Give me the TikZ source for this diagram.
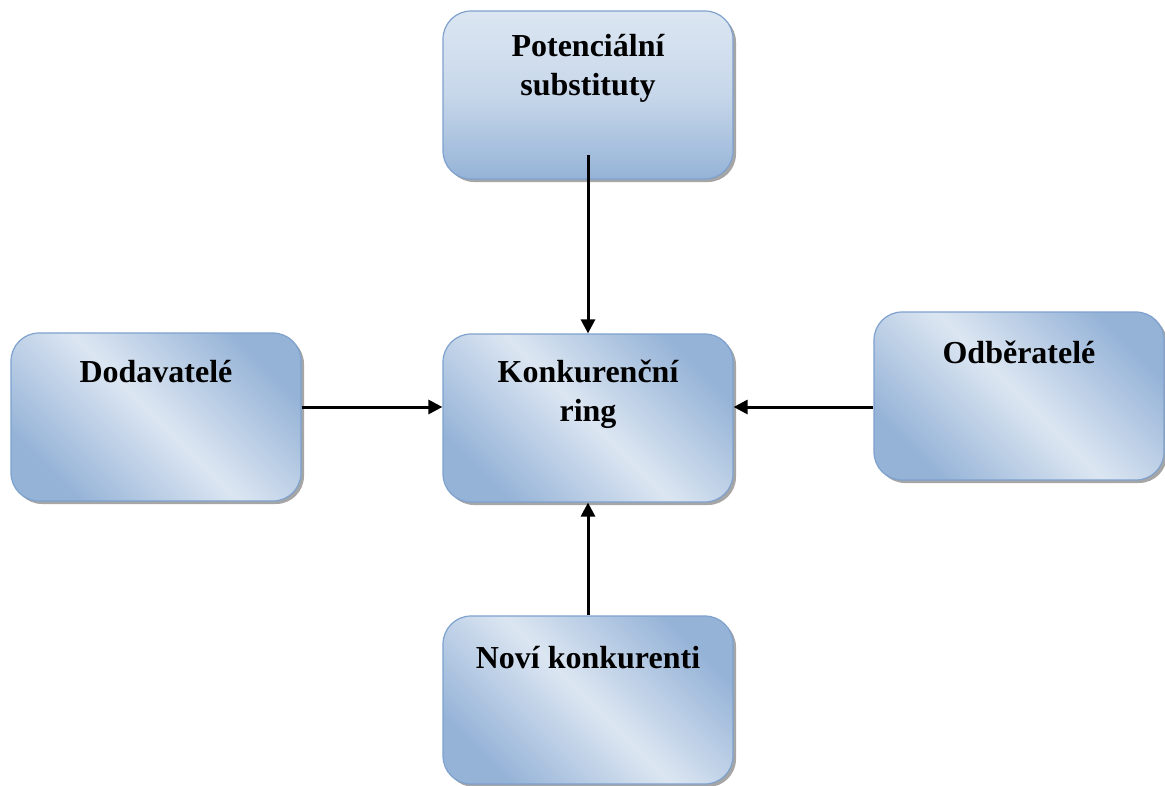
\documentclass[tikz,border=0pt]{standalone}
\usepackage{fontspec}
\setmainfont{Liberation Serif}
\usetikzlibrary{arrows.meta,shadows}
\definecolor{boxdark}{HTML}{95B3D7}
\definecolor{boxlight}{HTML}{DCE6F2}
\definecolor{boxline}{HTML}{7EA1CE}
\tikzset{
  box/.style={draw=boxline, line width=1.2pt, rounded corners=28pt,
    minimum width=290pt, minimum height=168pt, inner sep=0pt,
    drop shadow={shadow xshift=3pt, shadow yshift=-3pt, fill=gray!70, opacity=1},
    shading=axis, left color=boxdark, right color=boxdark, middle color=boxlight, shading angle=135},
  vbox/.style={box, top color=boxlight, bottom color=boxdark, middle color=boxlight!70!boxdark, shading angle=0},
  lbl/.style={font=\fontsize{32}{39}\selectfont\bfseries, align=center},
  conn/.style={line width=3pt, -{Triangle[length=14pt,width=14pt]}},
}
\begin{document}
\begin{tikzpicture}[x=1pt,y=-1pt]
\useasboundingbox (0,0) rectangle (1165,785);
\node[vbox] (sub) at (588,95) {};
\node[box] (dod) at (156,417) {};
\node[box] (kon) at (588,418) {};
\node[box] (odb) at (1019,396) {};
\node[box] (nov) at (588,700) {};
\node[lbl] (tsub) at (588,68) {Potenciální\\substituty};
\node[lbl] (tdod) at (156,372) {Dodavatelé};
\node[lbl] (tkon) at (588,394) {Konkurenční\\ring};
\node[lbl] (todb) at (1019,352) {Odběratelé};
\node[lbl] (tnov) at (588,658) {Noví konkurenti};
\coordinate (subin) at (588,155);
\coordinate (ymid) at (0,407);
\draw[conn] (subin) -- (kon.north);
\draw[conn] (dod.east |- ymid) -- (kon.west |- ymid);
\draw[conn] (odb.west |- ymid) -- (kon.east |- ymid);
\draw[conn] (nov.north) -- (kon.south);
\end{tikzpicture}
\end{document}
